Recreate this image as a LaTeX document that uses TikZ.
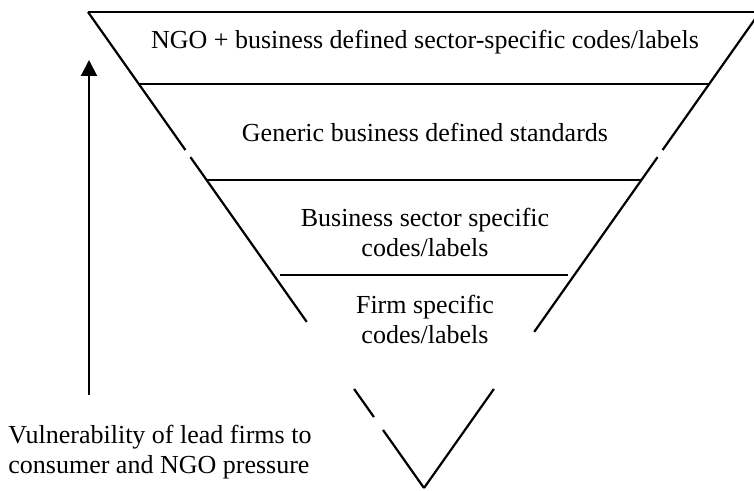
\documentclass[tikz,border=0pt]{standalone}
\usepackage{fontspec}
\setmainfont{Liberation Serif}
\usetikzlibrary{calc,arrows.meta}

\tikzset{
  layerlabel/.style={font=\fontsize{13}{15}\selectfont, align=center, inner sep=0pt},
  funnel/.style={line width=1.1pt, black},
}

\begin{document}
\begin{tikzpicture}[x=0.5pt,y=-0.5pt]
\useasboundingbox (0,0) rectangle (754,491);
\clip (0,0) rectangle (754,491);
% Funnel corners
\coordinate (tl) at (88,12);
\coordinate (tr) at (760,12);
\coordinate (apex) at (424,488);
% Top rim
\draw[funnel] (tl) -- (tr);
% Broken left and right walls
\draw[funnel] (tl) -- ($(tl)!0.290!(apex)$);
\draw[funnel] ($(tl)!0.305!(apex)$) -- ($(tl)!0.651!(apex)$);
\draw[funnel] ($(tl)!0.792!(apex)$) -- ($(tl)!0.851!(apex)$);
\draw[funnel] ($(tl)!0.878!(apex)$) -- (apex);
\draw[funnel] (tr) -- ($(tr)!0.290!(apex)$);
\draw[funnel] ($(tr)!0.305!(apex)$) -- ($(tr)!0.672!(apex)$);
\draw[funnel] ($(tr)!0.792!(apex)$) -- (apex);
% Layer dividers
\foreach \t/\cut in {0.151/0pt,0.353/0pt,0.5525/3pt}{
  \draw[funnel, line width=1pt, shorten <=\cut, shorten >=\cut]
        ($(tl)!\t!(apex)$) -- ($(tr)!\t!(apex)$);
}
% Layer texts
\node[layerlabel] (ngo) at (425,42) {NGO + business defined sector-specific codes/labels};
\node[layerlabel] (generic) at (425,132) {Generic business defined standards};
\node[layerlabel] (sector) at (425,232) {Business sector specific\\codes/labels};
\node[layerlabel] (firm) at (425,319) {Firm specific\\codes/labels};
% Vulnerability axis
\coordinate (vlow) at (89,395);
\coordinate (vhigh) at (89,60);
\draw[line width=1pt, -{Triangle[length=8pt,width=8pt]}] (vlow) -- (vhigh);
\node[layerlabel, align=left, anchor=west] (vuln) at (8,452)
      {Vulnerability of lead firms to\\consumer and NGO pressure};
\end{tikzpicture}
\end{document}
